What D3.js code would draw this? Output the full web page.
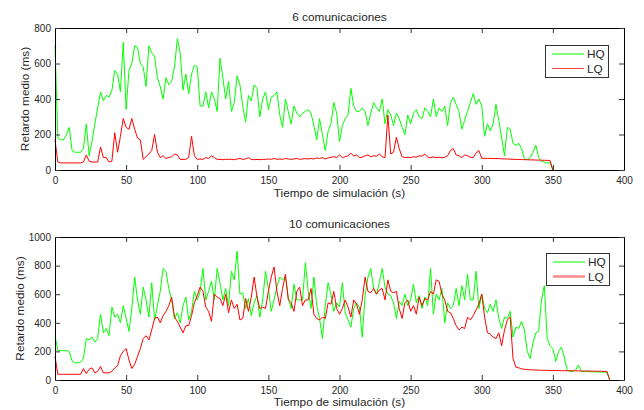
<!DOCTYPE html>
<html>
<head>
<meta charset="utf-8">
<script src="https://cdn.jsdelivr.net/npm/d3@7"></script>
<style>
  html, body { margin: 0; padding: 0; background: #fff; }
  svg { display: block; font-family: "Liberation Sans", Arial, sans-serif; }
  .tick text { font-size: 10px; fill: #262626; }
  .lbl { font-size: 11.8px; fill: #262626; }
</style>
</head>
<body>
<div id="chart"></div>
<script>
// sampling step of the series (seconds)
const stepTop = 2;
const stepBottom = 2;

// 6 comunicaciones, t = 0..350 s
const hqTop = [
  700,180,170,170,200,240,110,100,100,100,
  120,260,80,160,260,350,440,390,420,410,
  450,560,540,440,720,340,560,600,700,690,
  600,580,470,700,660,640,520,470,400,520,
  480,500,580,740,660,450,540,430,540,590,
  580,360,360,440,350,440,400,330,630,520,
  400,500,330,380,530,480,360,270,420,390,
  480,460,300,400,440,340,410,420,440,310,
  240,400,330,260,360,320,300,320,330,340,
  320,250,170,290,200,110,220,260,380,320,
  160,250,290,310,460,360,330,330,350,330,
  250,320,380,350,330,400,260,340,310,250,
  320,290,240,200,310,260,320,340,300,290,
  350,330,300,400,300,350,330,360,250,380,
  410,370,330,230,280,330,380,430,370,400,
  360,190,260,220,260,370,280,180,80,240,
  230,150,140,150,120,60,60,70,100,140,
  70,50,45,40,40,0
];
const lqTop = [
  170,45,40,40,40,40,40,40,40,40,
  45,85,50,45,45,45,130,70,70,45,
  50,210,100,190,290,240,230,290,230,180,
  170,60,75,90,110,200,100,70,80,65,
  70,75,90,85,60,60,60,70,190,80,
  60,62,60,70,65,80,70,60,60,58,
  60,60,60,58,62,65,60,62,70,60,
  58,60,58,60,60,62,60,65,60,62,
  60,65,62,60,62,65,60,62,64,62,
  65,62,68,65,70,62,68,72,75,70,
  85,70,75,80,95,78,85,70,72,80,
  85,75,80,78,90,75,70,310,90,100,
  185,120,75,70,72,70,75,72,80,78,
  90,72,70,74,70,72,68,72,80,110,
  120,85,80,70,85,80,72,70,95,110,
  65,66,65,66,64,65,64,63,62,62,
  61,60,60,59,59,58,58,57,57,56,
  56,55,55,54,54,0
];

// 10 comunicaciones, t = 0..390 s
const hqBottom = [
  310,205,205,205,205,200,135,120,120,125,
  150,290,280,300,265,290,460,330,360,310,
  510,440,460,400,520,430,340,500,720,560,
  460,650,560,440,680,420,520,620,780,760,
  640,560,430,470,400,520,580,420,480,620,
  560,620,780,560,620,690,560,780,680,560,
  640,520,760,700,900,600,610,500,570,450,
  540,590,440,560,760,640,480,560,650,720,
  700,720,580,500,670,560,560,560,820,620,
  500,720,520,430,290,520,680,600,480,540,
  510,680,470,420,370,500,540,510,300,590,
  720,780,640,600,680,780,650,600,590,540,
  430,550,520,600,520,560,670,540,590,500,
  580,520,780,460,600,560,640,400,540,500,
  520,640,520,660,560,740,560,560,760,500,
  600,500,470,530,480,560,430,360,440,430,
  480,300,370,360,410,350,200,150,260,330,
  340,560,660,290,240,220,130,200,230,160,
  70,60,60,70,105,60,58,60,58,57,
  57,56,56,55,55,0
];
const lqBottom = [
  165,40,40,40,40,40,40,40,40,40,
  80,45,75,85,50,60,95,50,50,50,
  60,85,100,170,200,220,140,80,110,165,
  220,290,310,280,350,430,440,400,450,480,
  520,580,440,410,370,330,380,380,450,540,
  590,650,620,510,480,410,600,580,570,520,
  600,470,560,500,530,420,430,570,480,580,
  720,580,500,510,500,620,720,790,620,520,
  640,740,560,540,480,620,650,520,560,560,
  640,460,430,420,440,430,540,530,620,500,
  460,500,560,510,440,560,530,460,560,720,
  620,610,640,600,630,640,560,700,620,610,
  620,500,430,540,560,480,520,460,580,520,
  570,560,620,600,700,690,600,560,480,470,
  430,380,350,370,360,440,420,450,490,530,
  600,440,330,320,300,290,330,240,350,420,
  440,150,90,85,78,75,73,72,70,70,
  69,68,68,67,67,66,66,66,65,65,
  65,65,64,64,64,63,63,63,62,62,
  62,61,61,60,60,0
];

const xTicks = [0, 50, 100, 150, 200, 250, 300, 350, 400];
const yTicksTop = [0, 200, 400, 600, 800];
const yTicksBottom = [0, 200, 400, 600, 800, 1000];
const seriesNames = ["HQ", "LQ"];

const W = 644, H = 410;
const svg = d3.select("#chart").append("svg").attr("width", W).attr("height", H);

function panel(cfg) {
  const x = d3.scaleLinear().domain([0, 400]).range([cfg.left, cfg.right]);
  const y = d3.scaleLinear().domain([0, cfg.ymax]).range([cfg.bottom, cfg.top]);
  const g = svg.append("g");

  const line = (vals, step) => d3.line()
    .x((d, i) => x(i * step))
    .y(d => y(d))(vals);

  g.append("path").attr("d", line(cfg.hq, cfg.step))
    .attr("fill", "none").attr("stroke", "#00ff00").attr("stroke-width", 1);
  g.append("path").attr("d", line(cfg.lq, cfg.step))
    .attr("fill", "none").attr("stroke", "#ff0000").attr("stroke-width", 1);

  // axes, ticks inside like matlab
  const fmt = d3.format("d");
  const ax = g.append("g").attr("class", "axes");
  ax.append("g").attr("transform", `translate(0,${cfg.bottom})`)
    .call(d3.axisBottom(x).tickValues(xTicks).tickFormat(fmt).tickSizeInner(-5).tickSizeOuter(0).tickPadding(7));
  ax.append("g").attr("transform", `translate(0,${cfg.top})`)
    .call(d3.axisTop(x).tickValues(xTicks).tickSizeInner(-5).tickSizeOuter(0).tickFormat(""));
  ax.append("g").attr("transform", `translate(${cfg.left},0)`)
    .call(d3.axisLeft(y).tickValues(cfg.yTicks).tickFormat(fmt).tickSizeInner(-5).tickSizeOuter(0).tickPadding(4));
  ax.append("g").attr("transform", `translate(${cfg.right},0)`)
    .call(d3.axisRight(y).tickValues(cfg.yTicks).tickSizeInner(-5).tickSizeOuter(0).tickFormat(""));
  ax.selectAll(".domain").attr("stroke", "#000");
  ax.selectAll(".tick line").attr("stroke", "#333");
  ax.selectAll("text").attr("font-family", null).attr("font-size", null);

  const cx = (cfg.left + cfg.right) / 2;
  g.append("text").attr("class", "lbl").attr("x", cx).attr("y", cfg.titleY)
    .attr("text-anchor", "middle").text(cfg.title);
  g.append("text").attr("class", "lbl").attr("x", cx).attr("y", cfg.xlabY)
    .attr("text-anchor", "middle").text("Tiempo de simulación (s)");
  g.append("text").attr("class", "lbl")
    .attr("transform", `translate(${cfg.ylabX},${(cfg.top + cfg.bottom) / 2}) rotate(-90)`)
    .attr("text-anchor", "middle").text("Retardo medio (ms)");

  // legend
  const lg = g.append("g").attr("transform", `translate(${cfg.legX},${cfg.legY})`);
  lg.append("rect").attr("x", 0.5).attr("y", 0.5).attr("width", 63).attr("height", 32)
    .attr("fill", "#fff").attr("stroke", "#333");
  const colors = ["#00ff00", cfg.lqLegendColor];
  const widths = [1, cfg.lqLegendWidth];
  seriesNames.forEach((name, i) => {
    const yy = 9 + i * 14.5;
    lg.append("line").attr("x1", 7).attr("x2", 39).attr("y1", yy).attr("y2", yy)
      .attr("stroke", colors[i]).attr("stroke-width", widths[i]);
    lg.append("text").attr("class", "lbl").attr("x", 42).attr("y", yy).attr("dy", "0.36em").text(name);
  });
}

panel({
  left: 55, right: 624, top: 28, bottom: 170, ymax: 800, yTicks: yTicksTop,
  hq: hqTop, lq: lqTop, step: stepTop,
  title: "6 comunicaciones", titleY: 21, xlabY: 197, ylabX: 29,
  legX: 545, legY: 45, lqLegendColor: "#ff4040", lqLegendWidth: 1
});
panel({
  left: 55, right: 624, top: 237, bottom: 380, ymax: 1000, yTicks: yTicksBottom,
  hq: hqBottom, lq: lqBottom, step: stepBottom,
  title: "10 comunicaciones", titleY: 228, xlabY: 406, ylabX: 24,
  legX: 546, legY: 253, lqLegendColor: "#ff8a8a", lqLegendWidth: 2.5
});
</script>
</body>
</html>
